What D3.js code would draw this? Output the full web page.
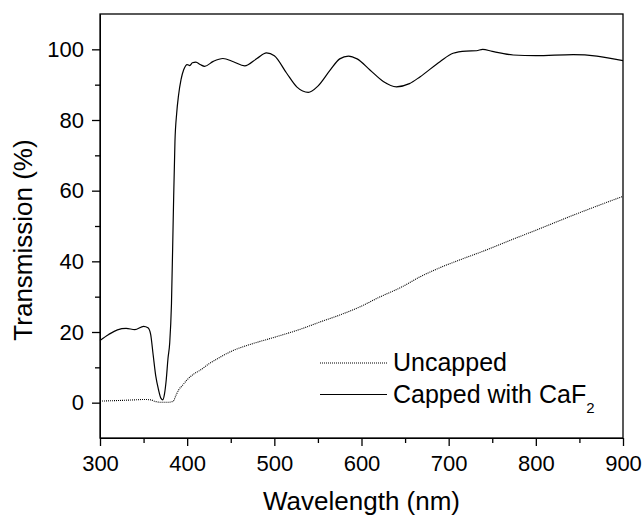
<!DOCTYPE html>
<html>
<head>
<meta charset="utf-8">
<script src="https://cdn.jsdelivr.net/npm/d3@7"></script>
<style>
    body { margin: 0; background: #fff; }
    #chart { width: 644px; height: 517px; }
    text { font-family: "Liberation Sans", Arial, sans-serif; fill: #000; }
</style>
</head>
<body>
<div id="chart"></div>
<script>
// wavelength (nm) / transmission (%)
const cappedWl = [300, 310, 320, 330, 340, 350, 355, 358, 361, 364, 367, 370, 372, 374, 376, 378, 380, 382, 384, 386, 388, 390, 393, 396, 400, 403, 406, 410, 415, 420, 430, 441, 453, 466, 480, 491, 500, 514, 526, 539, 550, 564, 575, 585, 595, 610, 625, 640, 655, 667, 690, 705, 720, 732, 739, 750, 774, 800, 843, 870, 900]
const cappedT  = [17.6, 19.3, 20.6, 21.0, 20.7, 21.6, 21.2, 19.5, 13.5, 7.5, 3.8, 1.2, 0.8, 2.5, 6.5, 12.5, 17.0, 28.0, 52.0, 74.0, 82.0, 86.8, 91.5, 94.2, 95.7, 95.4, 96.2, 96.4, 95.7, 95.2, 96.6, 97.4, 96.5, 95.3, 97.4, 99.0, 98.2, 93.3, 89.3, 87.8, 89.6, 94.1, 97.3, 98.1, 97.3, 94.1, 90.9, 89.4, 90.3, 92.2, 96.5, 98.9, 99.5, 99.6, 100.0, 99.4, 98.4, 98.2, 98.5, 98.1, 96.8]

const uncappedWl = [300, 320, 340, 350, 358, 364, 370, 378, 384, 387, 390, 395, 400, 407, 415, 425, 438, 453, 470, 500, 530, 552, 575, 598, 620, 645, 667, 690, 717, 742, 770, 800, 830, 860, 900]
const uncappedT  = [0.45, 0.6, 0.8, 0.9, 0.8, 0.3, 0.1, 0.1, 0.4, 2.0, 3.5, 5.0, 6.5, 8.0, 9.2, 11.0, 12.9, 14.8, 16.3, 18.5, 20.8, 22.8, 24.8, 27.1, 29.8, 32.6, 35.6, 38.2, 40.8, 43.1, 45.9, 48.8, 51.8, 54.7, 58.4]

const xTicks = [300, 400, 500, 600, 700, 800, 900]
const xMinor = [350, 450, 550, 650, 750, 850]
const yTicks = [0, 20, 40, 60, 80, 100]
const yMinor = [10, 30, 50, 70, 90]

const seriesNames = ["Uncapped", "Capped with CaF"]

class TransmissionPlot {
    constructor(parentElement) {
        this.parentElement = parentElement
        this.initVis()
    }

    initVis() {
        let vis = this

        vis.margin = {top: 14, right: 21, bottom: 79, left: 100}
        vis.width = 644 - vis.margin.left - vis.margin.right
        vis.height = 517 - vis.margin.top - vis.margin.bottom

        vis.svg = d3.select("#" + vis.parentElement).append("svg")
            .attr("width", 644)
            .attr("height", 517)
            .append("g")
            .attr("transform", `translate(${vis.margin.left}, ${vis.margin.top})`)

        vis.x = d3.scaleLinear().domain([300, 900]).range([0, vis.width])
        vis.y = d3.scaleLinear().domain([-10, 110]).range([vis.height, 0])

        // minor ticks first, no labels
        vis.svg.append("g")
            .attr("transform", `translate(0, ${vis.height})`)
            .call(d3.axisBottom(vis.x).tickValues(xMinor).tickSize(5).tickSizeOuter(0).tickFormat(""))
        vis.svg.append("g")
            .call(d3.axisLeft(vis.y).tickValues(yMinor).tickSize(5).tickSizeOuter(0).tickFormat(""))

        vis.xAxis = vis.svg.append("g")
            .attr("class", "x-axis axis")
            .attr("transform", `translate(0, ${vis.height})`)
            .call(d3.axisBottom(vis.x).tickValues(xTicks).tickSize(8).tickSizeOuter(0).tickPadding(9))
        vis.yAxis = vis.svg.append("g")
            .attr("class", "y-axis axis")
            .call(d3.axisLeft(vis.y).tickValues(yTicks).tickSize(8).tickSizeOuter(0).tickPadding(8))

        vis.svg.selectAll(".axis text").style("font-size", "22px")
        vis.svg.selectAll(".tick line").attr("stroke-width", 1.3)

        // frame
        vis.svg.append("rect")
            .attr("width", vis.width)
            .attr("height", vis.height)
            .attr("fill", "none")
            .attr("stroke", "#000")
            .attr("stroke-width", 1.3)

        vis.svg.append("text")
            .attr("x", vis.width / 2)
            .attr("y", vis.height + 72)
            .attr("text-anchor", "middle")
            .style("font-size", "26px")
            .text("Wavelength (nm)")

        vis.svg.append("text")
            .attr("transform", `translate(${32 - vis.margin.left}, ${240 - vis.margin.top}) rotate(-90)`)
            .attr("text-anchor", "middle")
            .style("font-size", "26px")
            .text("Transmission (%)")

        vis.updateVis()
    }

    updateVis() {
        let vis = this

        let line = d3.line()
            .x(d => vis.x(d[0]))
            .y(d => vis.y(d[1]))
            .curve(d3.curveMonotoneX)

        let uncapped = uncappedWl.map((w, i) => [w, uncappedT[i]])
        let capped = cappedWl.map((w, i) => [w, cappedT[i]])

        vis.svg.append("path")
            .datum(uncapped)
            .attr("d", line)
            .attr("fill", "none")
            .attr("stroke", "#000")
            .attr("stroke-width", 1.1)
            .attr("stroke-dasharray", "1,1")

        vis.svg.append("path")
            .datum(capped)
            .attr("d", line)
            .attr("fill", "none")
            .attr("stroke", "#000")
            .attr("stroke-width", 1.2)

        // legend
        let legend = vis.svg.append("g")
            .attr("transform", "translate(220, 349)")

        legend.append("line")
            .attr("x1", 0).attr("x2", 67)
            .attr("y1", 0).attr("y2", 0)
            .attr("stroke", "#000")
            .attr("stroke-width", 1.1)
            .attr("stroke-dasharray", "1,1")
        legend.append("text")
            .attr("x", 73).attr("y", 7.5)
            .style("font-size", "25px")
            .text(seriesNames[0])

        legend.append("line")
            .attr("x1", 0).attr("x2", 67)
            .attr("y1", 31.5).attr("y2", 31.5)
            .attr("stroke", "#000")
            .attr("stroke-width", 1.2)
        let t = legend.append("text")
            .attr("x", 73).attr("y", 40)
            .style("font-size", "25px")
            .text(seriesNames[1])
        t.append("tspan")
            .attr("dy", 10)
            .style("font-size", "15px")
            .text("2")
    }
}

new TransmissionPlot("chart")
</script>
</body>
</html>
